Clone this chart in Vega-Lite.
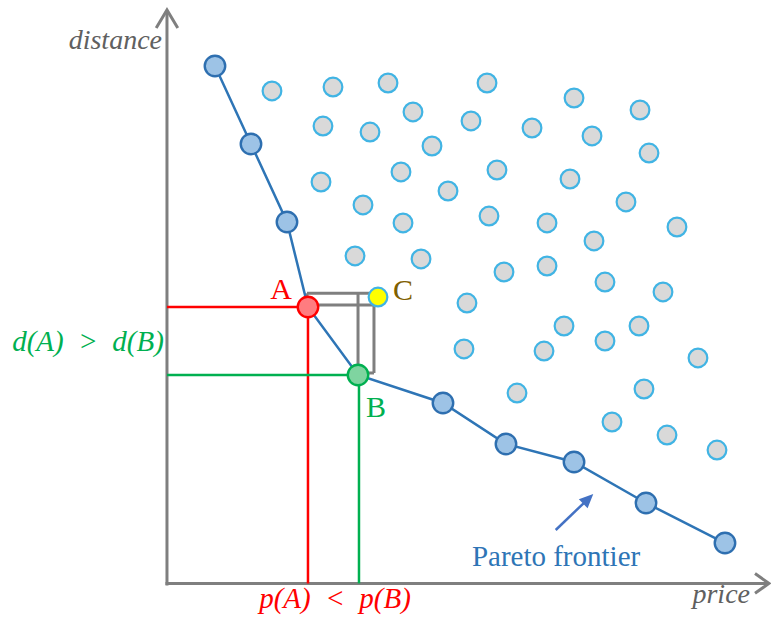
{
  "$schema": "https://vega.github.io/schema/vega-lite/v6.json",
  "width": 771,
  "height": 623,
  "autosize": "none",
  "padding": 0,
  "background": "white",
  "config": {"view": {"stroke": null}},
  "datasets": {
    "axes": [
      {"p": -0.17, "d": -0.25, "p2": -0.17, "d2": 95.6},
      {"p": -0.42, "d": 0.1, "p2": 100.1, "d2": 0.1}
    ],
    "yTip": [{"p": -0.17, "d": 95.67}],
    "xTip": [{"p": 100.17, "d": 0.1}],
    "guides": [
      {"p": -0.17, "d": 46.17, "p2": 23.33, "d2": 46.17, "g": "A"},
      {"p": 23.33, "d": 46.17, "p2": 23.33, "d2": 0.1, "g": "A"},
      {"p": -0.17, "d": 34.83, "p2": 31.67, "d2": 34.83, "g": "B"},
      {"p": 31.83, "d": 34.83, "p2": 31.83, "d2": 0.1, "g": "B"},
      {"p": 23.17, "d": 48.45, "p2": 33.67, "d2": 48.45, "g": "dominance"},
      {"p": 23.17, "d": 48.45, "p2": 23.17, "d2": 46.17, "g": "dominance"},
      {"p": 31.67, "d": 48.45, "p2": 31.67, "d2": 34.83, "g": "dominance"},
      {"p": 23.33, "d": 46.5, "p2": 34.33, "d2": 46.5, "g": "dominance"},
      {"p": 34.33, "d": 46.5, "p2": 34.33, "d2": 35.17, "g": "dominance"},
      {"p": 31.67, "d": 35.17, "p2": 34.33, "d2": 35.17, "g": "dominance"}
    ],
    "frontier": [
      {"p": 7.83, "d": 86.33, "point": "frontier"},
      {"p": 13.83, "d": 73.33, "point": "frontier"},
      {"p": 19.83, "d": 60.33, "point": "frontier"},
      {"p": 23.33, "d": 46.17, "point": "A"},
      {"p": 31.67, "d": 34.83, "point": "B"},
      {"p": 45.83, "d": 30.17, "point": "frontier"},
      {"p": 56.33, "d": 23.33, "point": "frontier"},
      {"p": 67.67, "d": 20.33, "point": "frontier"},
      {"p": 79.67, "d": 13.5, "point": "frontier"},
      {"p": 92.83, "d": 6.83, "point": "frontier"}
    ],
    "cloud": [
      {"p": 17.33, "d": 82.17, "point": "other"},
      {"p": 27.5, "d": 82.83, "point": "other"},
      {"p": 36.67, "d": 83.5, "point": "other"},
      {"p": 53.17, "d": 83.5, "point": "other"},
      {"p": 67.67, "d": 81, "point": "other"},
      {"p": 78.67, "d": 79, "point": "other"},
      {"p": 40.83, "d": 78.67, "point": "other"},
      {"p": 50.5, "d": 77.17, "point": "other"},
      {"p": 25.83, "d": 76.33, "point": "other"},
      {"p": 33.67, "d": 75.33, "point": "other"},
      {"p": 60.67, "d": 76, "point": "other"},
      {"p": 70.67, "d": 74.67, "point": "other"},
      {"p": 44, "d": 73, "point": "other"},
      {"p": 80.17, "d": 71.83, "point": "other"},
      {"p": 25.5, "d": 67, "point": "other"},
      {"p": 38.83, "d": 68.67, "point": "other"},
      {"p": 54.83, "d": 69, "point": "other"},
      {"p": 67, "d": 67.5, "point": "other"},
      {"p": 46.67, "d": 65.5, "point": "other"},
      {"p": 32.5, "d": 63.17, "point": "other"},
      {"p": 76.33, "d": 63.67, "point": "other"},
      {"p": 39.17, "d": 60.17, "point": "other"},
      {"p": 53.5, "d": 61.33, "point": "other"},
      {"p": 63.17, "d": 60.17, "point": "other"},
      {"p": 84.83, "d": 59.5, "point": "other"},
      {"p": 71, "d": 57.17, "point": "other"},
      {"p": 31.17, "d": 54.67, "point": "other"},
      {"p": 42.17, "d": 54.17, "point": "other"},
      {"p": 56, "d": 52, "point": "other"},
      {"p": 63.17, "d": 53, "point": "other"},
      {"p": 72.83, "d": 50.33, "point": "other"},
      {"p": 82.5, "d": 48.67, "point": "other"},
      {"p": 49.83, "d": 46.83, "point": "other"},
      {"p": 66, "d": 43, "point": "other"},
      {"p": 78.5, "d": 43, "point": "other"},
      {"p": 49.33, "d": 39.17, "point": "other"},
      {"p": 62.67, "d": 38.83, "point": "other"},
      {"p": 72.83, "d": 40.5, "point": "other"},
      {"p": 88.33, "d": 37.67, "point": "other"},
      {"p": 58.17, "d": 31.83, "point": "other"},
      {"p": 79.33, "d": 32.5, "point": "other"},
      {"p": 74, "d": 27, "point": "other"},
      {"p": 83.17, "d": 24.83, "point": "other"},
      {"p": 91.5, "d": 22.33, "point": "other"},
      {"p": 35, "d": 47.83, "point": "C"}
    ],
    "letters": [
      {"p": 18.83, "d": 47.5, "t": "A"},
      {"p": 34.67, "d": 27.83, "t": "B"},
      {"p": 39.17, "d": 47.33, "t": "C"}
    ],
    "axisTitles": [
      {"p": -1, "d": 89.17, "t": "distance"},
      {"p": 97, "d": -3.17, "t": "price"}
    ],
    "dLabel": [{"p": -13.33, "d": 38.83, "t": "d(A)\u2002>\u2002d(B)"}],
    "pLabel": [{"p": 27.83, "d": -4, "t": "p(A)\u2002<\u2002p(B)"}],
    "paretoText": [{"p": 64.67, "d": 3, "t": "Pareto frontier"}],
    "paretoArrow": [{"p": 64.62, "d": 9, "p2": 69.43, "d2": 13.62}],
    "paretoTip": [{"p": 70.88, "d": 15}]
  },
  "encoding": {
    "x": {"field": "p", "type": "quantitative", "scale": {"domain": [-28, 100.5], "nice": false, "zero": false}, "axis": null},
    "y": {"field": "d", "type": "quantitative", "scale": {"domain": [-6.5, 97.333], "nice": false, "zero": false}, "axis": null}
  },
  "layer": [
    {
      "data": {"name": "axes"},
      "mark": {"type": "rule", "stroke": "#7f7f7f", "strokeWidth": 3},
      "encoding": {"x2": {"field": "p2"}, "y2": {"field": "d2"}}
    },
    {
      "data": {"name": "yTip"},
      "mark": {"type": "point", "shape": "M -0.6 1 L 0 0 L 0.6 1", "size": 1296, "filled": false, "stroke": "#7f7f7f", "strokeWidth": 3, "opacity": 1}
    },
    {
      "data": {"name": "xTip"},
      "mark": {"type": "point", "shape": "M -1 -0.7 L 0 0 L -1 0.7", "size": 784, "filled": false, "stroke": "#7f7f7f", "strokeWidth": 3, "opacity": 1}
    },
    {
      "data": {"name": "guides"},
      "transform": [{"filter": "datum.g !== 'dominance'"}],
      "mark": {"type": "rule", "strokeWidth": 2.5},
      "encoding": {
        "x2": {"field": "p2"},
        "y2": {"field": "d2"},
        "color": {"field": "g", "type": "nominal", "scale": {"domain": ["A", "B"], "range": ["#ff0000", "#00b050"]}, "legend": null}
      }
    },
    {
      "data": {"name": "guides"},
      "transform": [{"filter": "datum.g === 'dominance'"}],
      "mark": {"type": "rule", "strokeWidth": 3, "stroke": "#7f7f7f"},
      "encoding": {"x2": {"field": "p2"}, "y2": {"field": "d2"}}
    },
    {
      "data": {"name": "frontier"},
      "mark": {"type": "line", "stroke": "#2e75b6", "strokeWidth": 2.5},
      "encoding": {}
    },
    {
      "data": {"name": "cloud"},
      "mark": {"type": "point", "filled": true, "size": 350, "stroke": "#41b4e4", "strokeWidth": 2.2, "opacity": 1},
      "encoding": {
        "color": {"field": "point", "type": "nominal", "scale": {"domain": ["other", "C"], "range": ["#d9d9d9", "#ffff00"]}, "legend": null}
      }
    },
    {
      "data": {"name": "frontier"},
      "mark": {"type": "point", "filled": true, "size": 420, "strokeWidth": 2.4, "opacity": 1},
      "encoding": {
        "color": {"field": "point", "type": "nominal", "scale": {"domain": ["frontier", "A", "B"], "range": ["#9dc3e6", "#ff7c80", "#7fd4a0"]}, "legend": null},
        "stroke": {"field": "point", "type": "nominal", "scale": {"domain": ["frontier", "A", "B"], "range": ["#2e6fb0", "#ff0000", "#00b050"]}, "legend": null}
      }
    },
    {
      "data": {"name": "letters"},
      "mark": {"type": "text", "font": "Liberation Serif", "fontSize": 30, "align": "center", "baseline": "alphabetic"},
      "encoding": {
        "text": {"field": "t"},
        "color": {"field": "t", "type": "nominal", "scale": {"domain": ["A", "B", "C"], "range": ["#ff0000", "#00b050", "#7f6000"]}, "legend": null}
      }
    },
    {
      "data": {"name": "axisTitles"},
      "mark": {"type": "text", "font": "Liberation Serif", "fontStyle": "italic", "fontSize": 28, "align": "right", "baseline": "alphabetic", "fill": "#606060"},
      "encoding": {"text": {"field": "t"}}
    },
    {
      "data": {"name": "dLabel"},
      "mark": {"type": "text", "font": "Liberation Serif", "fontStyle": "italic", "fontSize": 29, "align": "center", "baseline": "alphabetic", "fill": "#00b050"},
      "encoding": {"text": {"field": "t"}}
    },
    {
      "data": {"name": "pLabel"},
      "mark": {"type": "text", "font": "Liberation Serif", "fontStyle": "italic", "fontSize": 29, "align": "center", "baseline": "alphabetic", "fill": "#ff0000"},
      "encoding": {"text": {"field": "t"}}
    },
    {
      "data": {"name": "paretoText"},
      "mark": {"type": "text", "font": "Liberation Serif", "fontSize": 29, "align": "center", "baseline": "alphabetic", "fill": "#2e75b6"},
      "encoding": {"text": {"field": "t"}}
    },
    {
      "data": {"name": "paretoArrow"},
      "mark": {"type": "rule", "stroke": "#4472c4", "strokeWidth": 2.5},
      "encoding": {"x2": {"field": "p2"}, "y2": {"field": "d2"}}
    },
    {
      "data": {"name": "paretoTip"},
      "mark": {"type": "point", "shape": "M 0 0 L -0.45 1 L 0.45 1 Z", "size": 784, "filled": true, "fill": "#4472c4", "angle": 46, "opacity": 1}
    }
  ],
  "resolve": {"scale": {"color": "independent", "stroke": "independent"}}
}
